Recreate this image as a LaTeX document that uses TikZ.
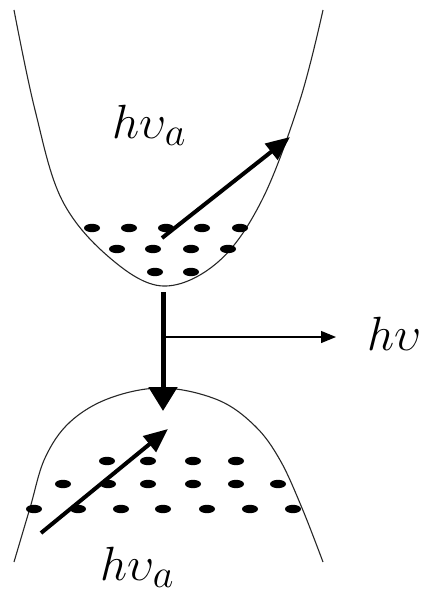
\documentclass[tikz,border=0pt]{standalone}
\usetikzlibrary{arrows.meta}
\begin{document}
\begin{tikzpicture}[x=1pt,y=-1pt,
  band/.style={line width=1.1pt, draw=black!85},
  bigarrow/.style={line width=4pt, -{Triangle[length=24pt,width=20pt]}},
  droparrow/.style={line width=5pt, -{Triangle[length=24pt,width=28pt]}},
  thinarrow/.style={line width=1.2pt, -{Triangle[length=15pt,width=12pt]}},
  lbl/.style={inner sep=0pt, anchor=base west, font=\Huge, scale=1.93}]
\useasboundingbox (0,0) rectangle (435,599);
% upper band
\draw[band] plot[smooth, tension=0.6] coordinates {(14,10) (35,110) (62,200) (110,258) (163,286) (218,262) (262,200) (300,100) (323,10)};
% lower band
\draw[band] plot[smooth, tension=0.6] coordinates {(14,562) (30,508) (45,458) (70,422) (110,398) (163,388) (218,400) (255,426) (280,460) (302,508) (323,562)};
% dots upper
\foreach \x in {92,129,166,202,240} \fill (\x,228) ellipse (8pt and 4.2pt);
\foreach \x in {117,153,191,228} \fill (\x,249) ellipse (8pt and 4.2pt);
\foreach \x in {155,191} \fill (\x,272) ellipse (8pt and 4.2pt);
% dots lower
\foreach \x in {107,148,193,236} \fill (\x,461) ellipse (8pt and 4.2pt);
\foreach \x in {63,108,148,193,236,278} \fill (\x,484) ellipse (8pt and 4.2pt);
\foreach \x in {34,78,121,163,207,250,293} \fill (\x,509) ellipse (8pt and 4.2pt);
% coordinates
\coordinate (ua) at (162,238);
\coordinate (ub) at (290,137);
\coordinate (va) at (163,292);
\coordinate (vb) at (163,411);
\coordinate (ha) at (163,337);
\coordinate (hb) at (336,337);
\coordinate (la) at (41,533);
\coordinate (lb) at (168,429);
% arrows
\draw[bigarrow] (ua) -- (ub);
\draw[droparrow] (va) -- (vb);
\draw[thinarrow] (ha) -- (hb);
\draw[bigarrow] (la) -- (lb);
% labels
\node[lbl] (tu) at (112,138) {$h\upsilon_a$};
\node[lbl] (tr) at (367,350) {$h\upsilon$};
\node[lbl] (tl) at (100,580) {$h\upsilon_a$};
\end{tikzpicture}
\end{document}
